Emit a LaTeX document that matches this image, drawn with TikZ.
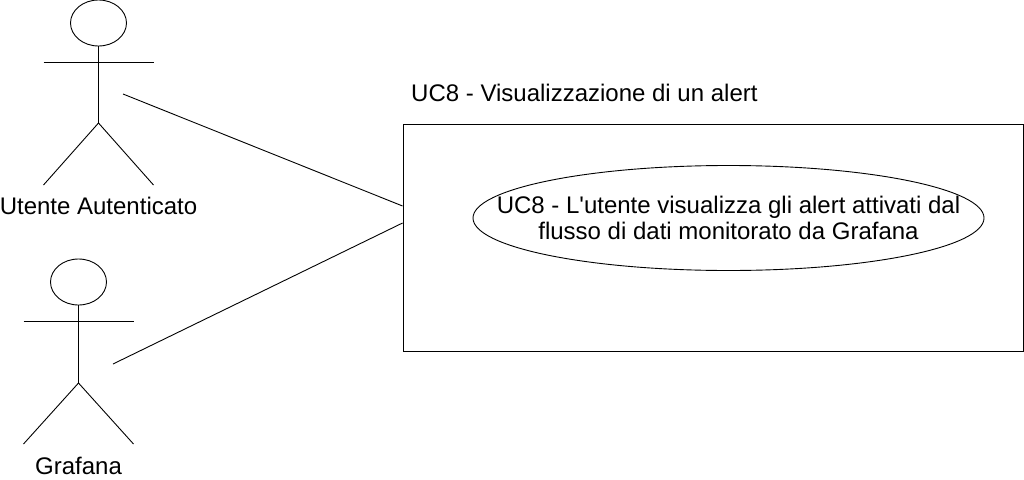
\documentclass[tikz,border=0pt]{standalone}
\usepackage{fontspec}
\setmainfont{Liberation Sans}
\usetikzlibrary{shapes.geometric}
\newcommand{\straightquote}{\XeTeXglyph\XeTeXglyphindex "quotesingle"\relax}
\tikzset{
  label text/.style={inner sep=0pt,font=\fontsize{24}{26}\selectfont,align=center},
  head/.style={draw,limb,ellipse,inner sep=0pt,minimum width=56,minimum height=46},
  limb/.style={line width=0.9pt},
}
\begin{document}
\begin{tikzpicture}[x=1pt,y=-1pt]
  \useasboundingbox (0,0) rectangle (1024,479);

  \node[head] (h1) at (98.5,23) {};
  \node[head] (h2) at (78.5,282) {};
  \coordinate (hip1) at (98.5,123);
  \coordinate (hip2) at (78.5,383);
  \draw[limb] (h1.south)--(hip1);
  \draw[limb] (43.5,62)--(153.5,62);
  \draw[limb] (43.5,185)--(hip1)--(153.5,185);
  \draw[limb] (h2.south)--(hip2);
  \draw[limb] (23.5,321)--(133.5,321);
  \draw[limb] (23.5,444)--(hip2)--(133.5,444);

  \node[label text] (a1) at (98.5,206) {Utente Autenticato};
  \node[label text] (a2) at (78.5,466) {Grafana};

  \node[draw,limb,minimum width=620,minimum height=227,inner sep=0pt] (box) at (713,237.5) {};
  \node[label text,anchor=west] (title) at (411,93) {UC8 - Visualizzazione di un alert};
  \node[draw,limb,ellipse,inner sep=0pt,minimum width=511,minimum height=105] (uc) at (728.5,218) {};
  \node[label text] (uctext) at (uc) {UC8 - L\straightquote utente visualizza gli alert attivati dal\\flusso di dati monitorato da Grafana};

  \coordinate (p1) at (123,94);
  \coordinate (p2) at (113,364);
  \draw[limb] (p1)--(box.west |- 0,206);
  \draw[limb] (p2)--(box.west |- 0,223);
\end{tikzpicture}
\end{document}
